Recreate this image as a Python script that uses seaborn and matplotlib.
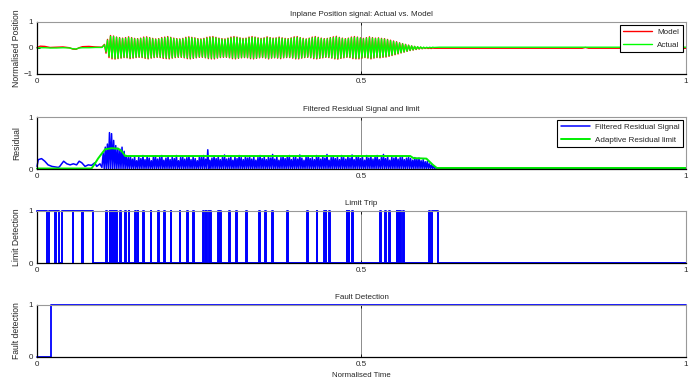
import numpy as np
import seaborn as sns
import matplotlib
matplotlib.use('Agg')
import matplotlib.pyplot as plt

# ---- panel 1: inplane position, actual vs model ----
pos_pre_t = [0.0, 0.005, 0.012, 0.02, 0.03, 0.04, 0.05, 0.055, 0.06, 0.065, 0.07, 0.08, 0.09, 0.1]
actual_pre = [0.0, 0.01, 0.01, 0.0, 0.0, 0.01, 0.0, -0.03, -0.04, 0.0, 0.01, 0.01, 0.02, 0.02]
model_pre = [0.02, 0.07, 0.06, 0.02, 0.03, 0.04, 0.01, -0.04, -0.05, 0.01, 0.05, 0.06, 0.04, 0.03]

osc_start, osc_end = 0.104, 0.612

actual_peaks = [0.12, 0.30, 0.45, 0.44, 0.41, 0.38, 0.36, 0.37, 0.40, 0.38,
                0.35, 0.34, 0.36, 0.39, 0.40, 0.38, 0.35, 0.33, 0.34, 0.37,
                0.39, 0.41, 0.39, 0.36, 0.34, 0.33, 0.35, 0.38, 0.40, 0.39,
                0.37, 0.34, 0.33, 0.35, 0.38, 0.40, 0.41, 0.39, 0.36, 0.34,
                0.33, 0.36, 0.39, 0.41, 0.40, 0.37, 0.35, 0.36, 0.39, 0.41,
                0.40, 0.37, 0.35, 0.37, 0.40, 0.38, 0.36, 0.37, 0.39, 0.37,
                0.35, 0.34, 0.37, 0.40, 0.41, 0.38, 0.35, 0.33, 0.36, 0.39,
                0.41, 0.39, 0.36, 0.34, 0.35, 0.38, 0.40, 0.42, 0.39, 0.36,
                0.34, 0.36, 0.39, 0.41, 0.40, 0.37, 0.35, 0.38, 0.40, 0.38,
                0.36, 0.37, 0.35, 0.34, 0.31, 0.28, 0.25, 0.22, 0.19, 0.16,
                0.13, 0.10, 0.08, 0.06, 0.05, 0.04, 0.03, 0.03, 0.03, 0.03]
actual_troughs = [-0.15, -0.32, -0.38, -0.40, -0.39, -0.37, -0.35, -0.36, -0.38, -0.37,
                  -0.35, -0.34, -0.35, -0.37, -0.39, -0.37, -0.35, -0.34, -0.35, -0.37,
                  -0.38, -0.39, -0.37, -0.35, -0.34, -0.34, -0.36, -0.38, -0.39, -0.38,
                  -0.36, -0.34, -0.34, -0.36, -0.38, -0.39, -0.39, -0.37, -0.35, -0.34,
                  -0.34, -0.36, -0.38, -0.39, -0.38, -0.36, -0.35, -0.36, -0.38, -0.39,
                  -0.38, -0.36, -0.35, -0.37, -0.39, -0.37, -0.36, -0.37, -0.38, -0.36,
                  -0.35, -0.35, -0.37, -0.39, -0.39, -0.37, -0.35, -0.34, -0.36, -0.38,
                  -0.39, -0.38, -0.36, -0.34, -0.35, -0.37, -0.39, -0.40, -0.38, -0.36,
                  -0.34, -0.35, -0.38, -0.39, -0.39, -0.37, -0.35, -0.37, -0.39, -0.37,
                  -0.35, -0.36, -0.34, -0.33, -0.30, -0.27, -0.24, -0.21, -0.18, -0.15,
                  -0.12, -0.09, -0.07, -0.05, -0.03, -0.02, -0.01, 0.0, 0.01, 0.02]
model_peaks = [0.14, 0.33, 0.48, 0.46, 0.42, 0.40, 0.38, 0.40, 0.43, 0.40,
               0.37, 0.36, 0.38, 0.42, 0.43, 0.40, 0.37, 0.35, 0.36, 0.40,
               0.42, 0.44, 0.41, 0.38, 0.36, 0.35, 0.37, 0.41, 0.43, 0.41,
               0.39, 0.36, 0.35, 0.37, 0.41, 0.43, 0.44, 0.41, 0.38, 0.36,
               0.35, 0.38, 0.42, 0.44, 0.42, 0.39, 0.37, 0.38, 0.42, 0.44,
               0.42, 0.39, 0.37, 0.39, 0.43, 0.40, 0.38, 0.39, 0.42, 0.39,
               0.37, 0.36, 0.39, 0.43, 0.44, 0.40, 0.37, 0.35, 0.38, 0.42,
               0.44, 0.41, 0.38, 0.36, 0.37, 0.40, 0.43, 0.45, 0.41, 0.38,
               0.36, 0.38, 0.42, 0.44, 0.42, 0.39, 0.37, 0.40, 0.43, 0.40,
               0.38, 0.39, 0.37, 0.36, 0.33, 0.30, 0.27, 0.24, 0.20, 0.17,
               0.14, 0.11, 0.08, 0.06, 0.04, 0.03, 0.02, 0.01, 0.0, 0.0]
model_troughs = [-0.20, -0.37, -0.42, -0.43, -0.41, -0.39, -0.37, -0.38, -0.41, -0.39,
                 -0.37, -0.36, -0.37, -0.40, -0.42, -0.39, -0.37, -0.36, -0.37, -0.40,
                 -0.41, -0.42, -0.39, -0.37, -0.36, -0.36, -0.38, -0.41, -0.42, -0.40,
                 -0.38, -0.36, -0.36, -0.38, -0.41, -0.42, -0.42, -0.39, -0.37, -0.36,
                 -0.36, -0.38, -0.41, -0.42, -0.40, -0.38, -0.37, -0.38, -0.41, -0.42,
                 -0.40, -0.38, -0.37, -0.39, -0.42, -0.39, -0.38, -0.39, -0.41, -0.38,
                 -0.37, -0.37, -0.39, -0.42, -0.42, -0.39, -0.37, -0.36, -0.38, -0.41,
                 -0.42, -0.40, -0.38, -0.36, -0.37, -0.39, -0.42, -0.43, -0.40, -0.38,
                 -0.36, -0.37, -0.41, -0.42, -0.42, -0.39, -0.37, -0.39, -0.42, -0.39,
                 -0.37, -0.38, -0.36, -0.35, -0.32, -0.29, -0.26, -0.23, -0.19, -0.16,
                 -0.13, -0.10, -0.08, -0.06, -0.04, -0.03, -0.02, -0.02, -0.02, -0.01]

pos_post_t = [0.62, 0.70, 0.84, 0.845, 0.85, 1.0]
actual_post = [0.03, 0.03, 0.03, 0.03, 0.03, 0.03]
model_post = [-0.01, -0.01, -0.01, 0.02, -0.01, -0.01]

# ---- panel 2: filtered residual and adaptive limit ----
res_pre_t = [0.0, 0.002, 0.007, 0.012, 0.017, 0.023, 0.028, 0.033, 0.035, 0.041, 0.046, 0.051,
             0.056, 0.061, 0.065, 0.069, 0.074, 0.079, 0.084, 0.089, 0.092, 0.097, 0.100]
res_pre = [0.05, 0.18, 0.20, 0.15, 0.08, 0.05, 0.04, 0.03, 0.05, 0.15, 0.10, 0.08,
           0.10, 0.08, 0.15, 0.12, 0.05, 0.08, 0.07, 0.12, 0.05, 0.10, 0.03]

res_start, res_end = 0.102, 0.616
res_floor = 0.01
res_peaks = [0.30, 0.42, 0.48, 0.70, 0.68, 0.55, 0.45, 0.40, 0.38, 0.42,
             0.34, 0.26, 0.22, 0.25, 0.19, 0.24, 0.16, 0.23, 0.20, 0.26,
             0.18, 0.24, 0.21, 0.16, 0.23, 0.25, 0.19, 0.22, 0.26, 0.17,
             0.21, 0.24, 0.18, 0.23, 0.20, 0.26, 0.16, 0.22, 0.24, 0.19,
             0.22, 0.25, 0.18, 0.23, 0.20, 0.16, 0.24, 0.22, 0.26, 0.19,
             0.37, 0.17, 0.21, 0.25, 0.20, 0.24, 0.18, 0.22, 0.27, 0.19,
             0.21, 0.24, 0.17, 0.23, 0.20, 0.26, 0.22, 0.18, 0.24, 0.21,
             0.25, 0.19, 0.23, 0.17, 0.22, 0.26, 0.20, 0.24, 0.18, 0.23,
             0.21, 0.28, 0.19, 0.24, 0.17, 0.22, 0.25, 0.20, 0.23, 0.26,
             0.18, 0.22, 0.24, 0.19, 0.27, 0.21, 0.17, 0.23, 0.25, 0.20,
             0.22, 0.18, 0.26, 0.23, 0.19, 0.24, 0.21, 0.28, 0.17, 0.22,
             0.25, 0.20, 0.23, 0.18, 0.26, 0.22, 0.19, 0.24, 0.21, 0.27,
             0.18, 0.23, 0.25, 0.20, 0.22, 0.17, 0.26, 0.21, 0.24, 0.19,
             0.23, 0.26, 0.18, 0.22, 0.28, 0.20, 0.24, 0.17, 0.23, 0.21,
             0.25, 0.19, 0.22, 0.24, 0.18, 0.21, 0.23, 0.20, 0.17, 0.22,
             0.19, 0.21, 0.16, 0.18, 0.14, 0.15, 0.10, 0.08, 0.06, 0.03]
res_post_t = [0.62, 1.0]
res_post = [0.005, 0.005]

limit_t = [0.0, 0.084, 0.089, 0.094, 0.100, 0.105, 0.115, 0.125, 0.130, 0.136,
           0.575, 0.58, 0.60, 0.61, 0.616, 1.0]
limit_vals = [0.01, 0.01, 0.10, 0.20, 0.30, 0.38, 0.40, 0.39, 0.35, 0.25,
              0.25, 0.21, 0.20, 0.08, 0.02, 0.02]

# ---- panel 3: limit trip (starts high, toggles at these times) ----
trip_start_level = 1
trip_toggles = [0.016, 0.018, 0.027, 0.029, 0.034, 0.038, 0.055, 0.056, 0.070, 0.071, 0.086,
                0.107, 0.108, 0.112, 0.113, 0.114, 0.115, 0.116, 0.117, 0.118, 0.119,
                0.120, 0.121, 0.122, 0.123, 0.128, 0.130, 0.136, 0.137, 0.141, 0.142,
                0.151, 0.152, 0.155, 0.156, 0.164, 0.165, 0.175, 0.176, 0.187, 0.188,
                0.196, 0.197, 0.206, 0.207, 0.220, 0.221, 0.231, 0.232, 0.241, 0.242,
                0.256, 0.258, 0.260, 0.261, 0.264, 0.266, 0.267, 0.268, 0.279, 0.280,
                0.282, 0.283, 0.296, 0.297, 0.307, 0.308, 0.322, 0.323, 0.342, 0.343,
                0.352, 0.353, 0.362, 0.363, 0.385, 0.386, 0.416, 0.418, 0.431, 0.432,
                0.442, 0.443, 0.445, 0.446, 0.450, 0.451, 0.477, 0.478, 0.480, 0.481,
                0.485, 0.487, 0.529, 0.530, 0.536, 0.537, 0.543, 0.544, 0.554, 0.555,
                0.557, 0.558, 0.560, 0.561, 0.564, 0.565, 0.604, 0.606, 0.608, 0.618]

# ---- panel 4: fault detection ----
fault_t = [0.0, 0.022, 0.022, 1.0]
fault_vals = [0, 0, 1, 1]

titles = ['Inplane Position signal: Actual vs. Model', 'Filtered Residual Signal and limit',
          'Limit Trip', 'Fault Detection']
ylabels = ['Normalised Position', 'Residual', 'Limit Detection', 'Fault detection']


def interleave(a, b):
    out = np.empty(len(a) + len(b))
    out[0::2] = a
    out[1::2] = b
    return out


sns.set_style('ticks')
plt.rcParams['font.family'] = ['Liberation Sans', 'DejaVu Sans']
plt.rcParams['xtick.direction'] = 'in'
plt.rcParams['ytick.direction'] = 'in'

fig = plt.figure(figsize=(6.97, 3.81), dpi=100)
bottoms = [0.8058, 0.5564, 0.3097, 0.0630]
axes = [fig.add_axes([0.0531, b, 0.9311, 0.1365]) for b in bottoms]
line_kw = dict(estimator=None, sort=False, clip_on=False)

# panel 1
osc_t = np.linspace(osc_start, osc_end, 2 * len(actual_peaks))
t1 = np.concatenate([pos_pre_t, osc_t, pos_post_t])
model_y = np.concatenate([model_pre, interleave(model_peaks, model_troughs), model_post])
actual_y = np.concatenate([actual_pre, interleave(actual_peaks, actual_troughs), actual_post])
ax = axes[0]
sns.lineplot(x=t1, y=model_y, ax=ax, color='red', lw=1.0, label='Model', **line_kw)
sns.lineplot(x=t1, y=actual_y, ax=ax, color='#00ff00', lw=1.0, label='Actual', **line_kw)
ax.set_ylim(-1, 1)
ax.set_yticks([-1, 0, 1])

# panel 2
spk_t = np.linspace(res_start, res_end, 2 * len(res_peaks))
t2 = np.concatenate([res_pre_t, spk_t, res_post_t])
res_y = np.concatenate([res_pre, interleave(res_peaks, [res_floor] * len(res_peaks)), res_post])
ax = axes[1]
sns.lineplot(x=t2, y=res_y, ax=ax, color='blue', lw=1.1, label='Filtered Residual Signal', **line_kw)
sns.lineplot(x=limit_t, y=limit_vals, ax=ax, color='#00ee00', lw=1.4, label='Adaptive Residual limit',
             **line_kw)
ax.set_ylim(0, 1)
ax.set_yticks([0, 1])

# panel 3: expand toggles into a step trace
tx, ty = [0.0], [trip_start_level]
level = trip_start_level
for t in trip_toggles:
    tx += [t, t]
    ty += [level, 1 - level]
    level = 1 - level
tx.append(1.0)
ty.append(level)
ax = axes[2]
sns.lineplot(x=tx, y=ty, ax=ax, color='blue', lw=1.4, **line_kw)
ax.set_ylim(0, 1)
ax.set_yticks([0, 1])

# panel 4
ax = axes[3]
sns.lineplot(x=fault_t, y=fault_vals, ax=ax, color='blue', lw=1.3, **line_kw)
ax.set_ylim(0, 1)
ax.set_yticks([0, 1])
ax.set_xlabel('Normalised Time', fontsize=5.6, labelpad=3)

for ax, title, ylab in zip(axes, titles, ylabels):
    ax.set_xlim(0, 1)
    ax.set_xticks([0, 0.5, 1])
    ax.set_xticklabels(['0', '0.5', '1'])
    ax.set_title(title, fontsize=5.8, pad=4)
    ax.set_ylabel(ylab, fontsize=6.2)
    ax.yaxis.set_label_coords(-0.024, 0.5)
    ax.tick_params(labelsize=5.8, length=2, width=0.6, pad=3, top=True, right=True, color='black')
    ax.grid(axis='x', color='0.55', lw=0.7)
    for side in ['left', 'bottom']:
        ax.spines[side].set_color('black')
        ax.spines[side].set_linewidth(0.9)
    for side in ['top', 'right']:
        ax.spines[side].set_visible(True)
        ax.spines[side].set_color('0.6')
        ax.spines[side].set_linewidth(0.8)
    if ax.get_legend() is not None:
        ax.get_legend().remove()

for ax in axes[:2]:
    leg = ax.legend(loc='upper right', fontsize=5.8, handlelength=3.6, borderaxespad=0.35,
                    fancybox=False, framealpha=1, edgecolor='black', borderpad=0.45,
                    labelspacing=0.6, handletextpad=0.6)
    leg.get_frame().set_linewidth(0.8)

fig.savefig('out.png', dpi=100)
